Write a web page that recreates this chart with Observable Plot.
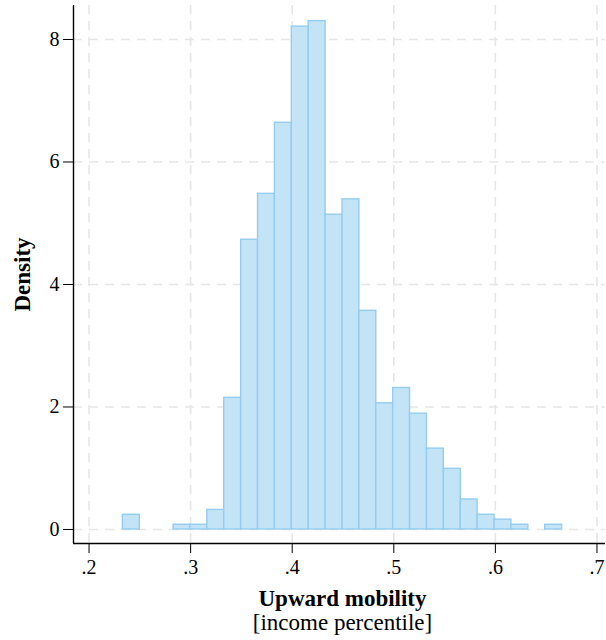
<!DOCTYPE html>
<html>
<head>
<meta charset="utf-8">
<script src="https://cdn.jsdelivr.net/npm/d3@7"></script>
<script src="https://cdn.jsdelivr.net/npm/@observablehq/plot@0.6"></script>
<style>
  html, body { margin: 0; padding: 0; background: #fff; }
</style>
</head>
<body>
<div id="chart"></div>
<script>
// Histogram bins (density), equal-width bins
const binStart = 0.2333;
const binWidth = 0.01663;
const density = [0.24, 0, 0, 0.077, 0.077, 0.32, 2.15, 4.73, 5.48, 6.64, 8.21, 8.30, 5.14,
                 5.39, 3.57, 2.06, 2.31, 1.89, 1.32, 0.99, 0.49, 0.24, 0.16, 0.077, 0, 0.077];
const xTicks = [0.2, 0.3, 0.4, 0.5, 0.6, 0.7];
const yTicks = [0, 2, 4, 6, 8];
const xDomain = [0.1847, 0.7084];
const yDomain = [-0.229, 8.555];
const xTitle = "Upward mobility";
const xSubtitle = "[income percentile]";
const yTitle = "Density";

const bins = density
  .map((d, i) => ({x1: binStart + i * binWidth, x2: binStart + (i + 1) * binWidth, density: d}))
  .filter(b => b.density > 0);

const gridStyle = {stroke: "#e6e6e6", strokeOpacity: 1, strokeWidth: 1.6, strokeDasharray: "9,7"};
const font = "'Liberation Serif', 'Times New Roman', serif";

const chart = Plot.plot({
  width: 606,
  height: 640,
  marginLeft: 73,
  marginRight: 1,
  marginTop: 5,
  marginBottom: 97,
  x: {domain: xDomain},
  y: {domain: yDomain},
  style: {fontFamily: font, background: "white", color: "black"},
  marks: [
    Plot.gridX(xTicks, gridStyle),
    Plot.gridY(yTicks, gridStyle),
    Plot.rectY(bins, {x1: "x1", x2: "x2", y: "density", fill: "#c3e3f6", stroke: "#94cdef", strokeWidth: 1.4}),
    Plot.ruleX([xDomain[0]], {stroke: "black", strokeWidth: 1.4}),
    Plot.ruleY([yDomain[0]], {stroke: "black", strokeWidth: 1.4}),
    Plot.axisX(xTicks, {tickSize: 10, tickPadding: 6, fontSize: 20, label: null,
      tickFormat: d => d3.format(".1f")(d).replace(/^0/, "")}),
    Plot.axisY(yTicks, {tickSize: 10, tickPadding: 4, fontSize: 20, label: null,
      tickFormat: d3.format("d")}),
    Plot.text([xTitle], {frameAnchor: "bottom", lineAnchor: "middle", textAnchor: "middle",
      dy: 55, dx: 3, fontSize: 23, fontWeight: "bold", fontFamily: font}),
    Plot.text([xSubtitle], {frameAnchor: "bottom", lineAnchor: "middle", textAnchor: "middle",
      dy: 79, dx: 3, fontSize: 23, fontFamily: font}),
    Plot.text([yTitle], {frameAnchor: "left", lineAnchor: "middle", textAnchor: "middle",
      dx: -51, rotate: -90, fontSize: 23, fontWeight: "bold", fontFamily: font})
  ]
});
document.getElementById("chart").appendChild(chart);
</script>
</body>
</html>
